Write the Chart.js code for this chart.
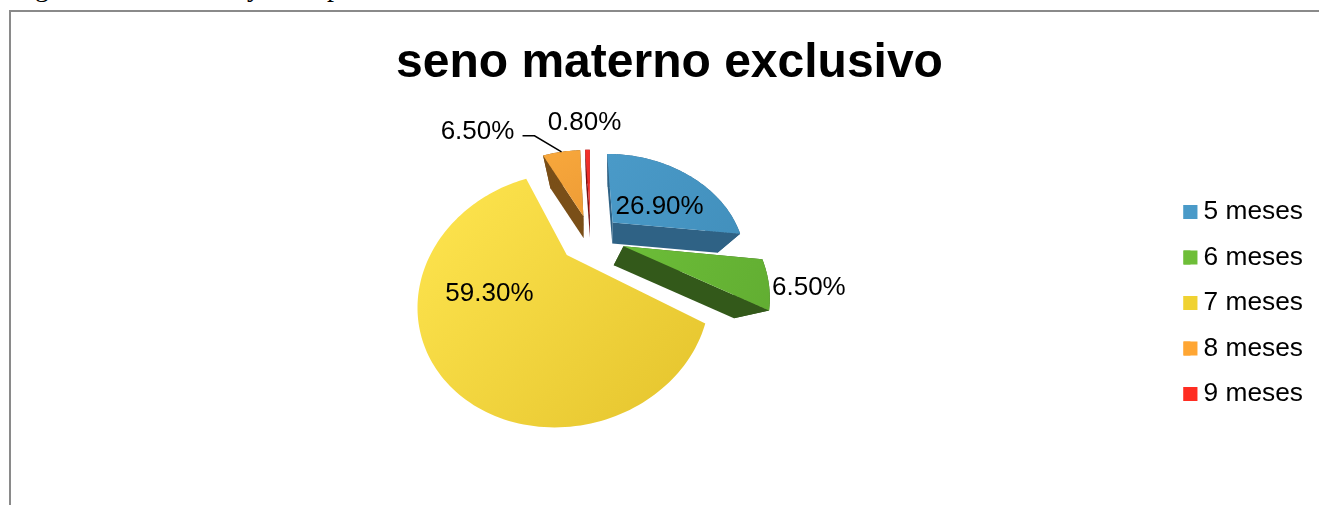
<!DOCTYPE html>
<html>
<head>
<meta charset="utf-8">
<title>seno materno exclusivo</title>
<script src="https://cdn.jsdelivr.net/npm/chart.js@4/dist/chart.umd.min.js"></script>
<style>
html, body { margin: 0; padding: 0; background: #fff; overflow: hidden; width: 1319px; height: 505px; }
.caption { position: absolute; top: -29px; font: 28px/32px "Liberation Serif", serif; color: #000; }
#box { position: absolute; left: 9px; top: 10px; width: 1321px; height: 582px; border-left: 2px solid #8a8a8a; border-top: 2px solid #8a8a8a; }
</style>
</head>
<body>
<span class="caption" style="left:35px">g</span>
<span class="caption" style="left:247px">y</span>
<span class="caption" style="left:327px">p</span>
<div id="box"><canvas id="pieChart" width="1321" height="582"></canvas></div>
<script>
//CHART DATA
var categories = ["5 meses", "6 meses", "7 meses", "8 meses", "9 meses"];
var percentValues = [26.9, 6.5, 59.3, 6.5, 0.8];

//COLORS
var legendColors = ["#4a9ac8", "#6ebe38", "#f0d232", "#ffa633", "#ff2d22"];
var faceStart = ["#4a9ac8", "#6cbd38", "#ffe650", "#f8a83c", "#f5302a"];
var faceEnd = ["#4290bd", "#62ae32", "#e4c32c", "#ee9c36", "#e62622"];
var wallColors = ["#2f6285", "#33591a", "", "#7a4f18", "#7a1414"];

//LABEL NUDGES, RELATIVE TO THE MIDDLE OF EACH SLICE'S OUTER EDGE
var labelNudgeX = [-25, 40, 61, -84, -3];
var labelNudgeY = [34, 4, -62, -20, -27];

//HOW FAR EACH SLICE IS PULLED OUT, IN PIE RADII
var explode = [0.24, 0.26, 0.24, 0.24, 0.24];

//WHERE THE SLICE WALLS CONVERGE, RELATIVE TO THE PIE ORIGIN
var vanishX = [43, 0, 0, 18, 23];
var vanishY = [88, 100, 0, 88, 88];

//PERSPECTIVE OF THE TILTED PIE
var radiusPx = 136.7;
var tilt = { k: 0.351, squash: 0.82, shear: -0.07, originU: -0.173, originV: 0.166 };
var shiftX = -28;
var shiftY = -89;
var wallDepth = 0.174;

var labelFont = '26px "Liberation Sans", Arial, sans-serif';
var swatchSize = 14;

//disc coordinates (pie radius = 1) to canvas pixels
function project(pie, u, v) {
    var du = u - tilt.originU;
    var dv = v - tilt.originV;
    var s = 1 / (1 - tilt.k * dv);
    var y = radiusPx * tilt.squash * dv * s;
    var x = radiusPx * du * s + tilt.shear * y;
    return { x: pie.x + shiftX + x, y: pie.y + shiftY + y };
}

function slicePoints(pie, arc, pull) {
    var start = arc.startAngle + Math.PI / 2;
    var end = arc.endAngle + Math.PI / 2;
    var mid = (start + end) / 2;
    var apexU = pull * Math.sin(mid);
    var apexV = -pull * Math.cos(mid);
    var outer = [];
    var steps = Math.max(4, Math.ceil((end - start) * 40));
    for (var i = 0; i <= steps; i++) {
        var a = start + (end - start) * i / steps;
        outer.push(project(pie, apexU + Math.sin(a), apexV - Math.cos(a)));
    }
    return {
        apex: project(pie, apexU, apexV),
        outer: outer,
        middle: project(pie, apexU + Math.sin(mid), apexV - Math.cos(mid))
    };
}

//bottom of the slice, pulled towards the point its walls converge on
function lower(pie, p, i) {
    var vx = pie.x + shiftX + vanishX[i];
    var vy = pie.y + shiftY + vanishY[i];
    return { x: p.x + (vx - p.x) * wallDepth, y: p.y + (vy - p.y) * wallDepth };
}

function fillPolygon(ctx, pts, fill) {
    ctx.beginPath();
    pts.forEach(function(p, i) {
        if (i === 0) ctx.moveTo(p.x, p.y); else ctx.lineTo(p.x, p.y);
    });
    ctx.closePath();
    ctx.fillStyle = fill;
    ctx.fill();
}

var tiltedPie = {
    id: "tiltedPie",
    beforeDatasetDraw: function(chart, args) {
        var ctx = chart.ctx;
        var arcs = chart.getDatasetMeta(args.index).data;
        var pie = arcs[0];
        var shapes = arcs.map(function(arc, i) { return slicePoints(pie, arc, explode[i]); });

        //farthest slices first so nearer ones cover them
        var order = arcs.map(function(arc, i) { return i; }).sort(function(a, b) {
            return shapes[a].apex.y - shapes[b].apex.y;
        });
        order.forEach(function(i) {
            var shape = shapes[i];
            var edge = [shape.apex].concat(shape.outer);
            if (wallColors[i]) {
                var low = edge.map(function(p) { return lower(pie, p, i); });
                for (var n = 0; n < edge.length; n++) {
                    var m = (n + 1) % edge.length;
                    fillPolygon(ctx, [edge[n], edge[m], low[m], low[n]], wallColors[i]);
                }
            }
            var xs = edge.map(function(p) { return p.x; });
            var ys = edge.map(function(p) { return p.y; });
            var grad = ctx.createLinearGradient(Math.min.apply(null, xs), Math.min.apply(null, ys),
                Math.max.apply(null, xs), Math.max.apply(null, ys));
            grad.addColorStop(0, faceStart[i]);
            grad.addColorStop(1, faceEnd[i]);
            fillPolygon(ctx, edge, grad);
        });

        //leader line of the 8 meses label
        var tip = shapes[3].middle;
        ctx.beginPath();
        ctx.moveTo(tip.x - 39, tip.y - 16);
        ctx.lineTo(tip.x - 27, tip.y - 16);
        ctx.lineTo(tip.x, tip.y);
        ctx.strokeStyle = "#000";
        ctx.lineWidth = 1.5;
        ctx.stroke();

        ctx.font = labelFont;
        ctx.fillStyle = "#000";
        ctx.textAlign = "center";
        ctx.textBaseline = "middle";
        shapes.forEach(function(shape, i) {
            ctx.fillText(percentValues[i].toFixed(2) + "%",
                shape.middle.x + labelNudgeX[i], shape.middle.y + labelNudgeY[i]);
        });
        return false;
    },
    //legend boxes sit closer to their text than the legend spacing allows
    afterDraw: function(chart) {
        var ctx = chart.ctx;
        chart.legend.legendHitBoxes.forEach(function(hit, i) {
            ctx.fillStyle = legendColors[i];
            ctx.fillRect(hit.left, hit.top + hit.height / 2 - swatchSize / 2, swatchSize, swatchSize);
        });
    }
};

var ctxPie = document.getElementById("pieChart").getContext("2d");
var pieChart = new Chart(ctxPie, {
    type: "pie",
    data: {
        labels: categories,
        datasets: [{
            data: percentValues,
            backgroundColor: legendColors,
            borderWidth: 0
        }]
    },
    plugins: [tiltedPie],
    options: {
        responsive: false,
        animation: false,
        radius: radiusPx,
        layout: { padding: { left: 15, right: 19 } },
        plugins: {
            tooltip: { enabled: false },
            title: {
                display: true,
                text: "seno materno exclusivo",
                color: "#000",
                font: { family: '"Liberation Sans", Arial, sans-serif', size: 48, weight: "bold", lineHeight: 1.2 },
                padding: { top: 23, bottom: 2 }
            },
            legend: {
                position: "right",
                labels: {
                    boxWidth: 7,
                    boxHeight: 14,
                    padding: 19.2,
                    color: "#000",
                    font: { family: '"Liberation Sans", Arial, sans-serif', size: 26.3 }
                }
            }
        }
    }
});
</script>
</body>
</html>
